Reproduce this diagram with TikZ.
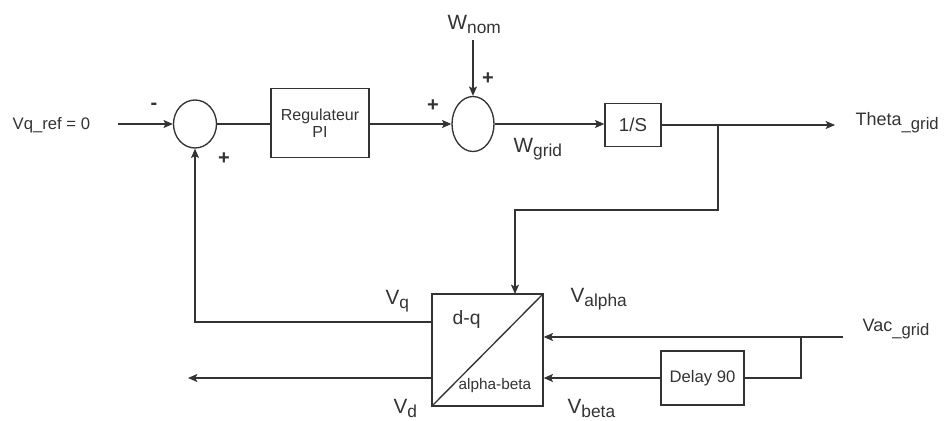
\documentclass[tikz,border=0pt]{standalone}
\usepackage{fontspec}
\setmainfont{Liberation Sans}
\usetikzlibrary{shapes.geometric, arrows.meta}
\definecolor{trait}{HTML}{333333}
\newcommand{\fs}[1]{\fontsize{#1}{#1}\selectfont}
\newcommand{\indice}[2][13]{\raisebox{-3pt}{\fs{#1}#2}}

\begin{document}
\begin{tikzpicture}[x=0.75pt, y=-0.75pt, >={Stealth[length=7pt, width=6pt, inset=1.5pt]},
    line width=1pt, color=trait,
    bloc/.style={draw, rectangle, inner sep=0pt, align=center},
    somme/.style={draw, ellipse, inner sep=0pt},
    signe/.style={font=\fs{15}\bfseries, inner sep=0pt},
    lbl/.style={anchor=north west, inner sep=0pt}]
    \useasboundingbox (0,0) rectangle (946,421);

    % Blocs
    \node[somme, minimum width=32.25pt, minimum height=36pt] (S1) at (195,124) {};
    \node[bloc, minimum width=73.5pt, minimum height=51.75pt, font=\fs{12}] (PI) at (320,123) {Regulateur\\[1pt]PI};
    \node[somme, minimum width=31.5pt, minimum height=41.25pt] (S2) at (473,124) {};
    \node[bloc, minimum width=42pt, minimum height=32.25pt, font=\fs{14}] (INT) at (633,125) {1/S};
    \node[bloc, minimum width=83.25pt, minimum height=84pt] (DQ) at (487.5,350) {};
    \node[bloc, minimum width=62.25pt, minimum height=40.5pt, font=\fs{12.5}] (DEL) at (702.5,378) {Delay 90};
    \draw (DQ.south west) -- (DQ.north east);

    % Points de branchement
    \coordinate (E) at (118,124);
    \coordinate (THout) at (835,125);
    \coordinate (B1) at (718,125);
    \coordinate (B2) at (718,210);
    \coordinate (DQin) at (515,294);
    \coordinate (VDout) at (188,378);
    \coordinate (VAC) at (843,337);
    \coordinate (B3) at (801,337);

    % Etiquettes
    \node[lbl, font=\fs{12.5}] (VQREF) at (12,117) {Vq\_ref = 0};
    \node[lbl, font=\fs{15.5}] (WNOM) at (447,15) {W\indice{nom}};
    \node[lbl, font=\fs{15.5}] (WGRID) at (513,138) {W\indice{grid}};
    \node[lbl, font=\fs{13.5}] (THETA) at (855,112) {Theta\indice[12.5]{\_grid}};
    \node[lbl, font=\fs{13.5}] (VACG) at (862,318) {Vac\indice[12.5]{\_grid}};
    \node[lbl, font=\fs{15.5}] (VQ) at (385,290) {V\indice{q}};
    \node[lbl, font=\fs{15.5}] (VD) at (393,399) {V\indice{d}};
    \node[lbl, font=\fs{15.5}] (VAL) at (570,288) {V\indice{alpha}};
    \node[lbl, font=\fs{15.5}] (VBE) at (567,399) {V\indice{beta}};
    \node[lbl, font=\fs{14.5}] (DQt) at (452,310) {d-q};
    \node[lbl, font=\fs{11.5}] (ABt) at (458,378) {alpha-beta};

    % Signes
    \node[signe] (m1) at (154,106) {-};
    \node[signe] (p1) at (224,159) {+};
    \node[signe] (p2) at (433,106) {+};
    \node[signe] (p3) at (488,79) {+};

    % Liaisons
    \draw[->] (E) -- (S1.west);
    \draw (S1.east) -- (S1 -| PI.west);
    \draw[->] (S2 -| PI.east) -- (S2.west);
    \draw[->] (WNOM.south -| S2.north) ++(0,-4pt) -- (S2.north);
    \draw[->] (S2.east) -- (S2 -| INT.west);
    \draw[->] (INT.east) -- (THout);
    \draw[->] (B1) -- (B2) -| (DQin);
    \draw[->] ([yshift=21pt]DQ.west) -| (S1.south);
    \draw[->] ([yshift=-21pt]DQ.west) -- (VDout);
    \draw[->] (VAC) -- (VAC -| DQ.east);
    \draw (B3) |- (DEL.east);
    \draw[->] (DEL.west) -- (DEL -| DQ.east);
\end{tikzpicture}
\end{document}
